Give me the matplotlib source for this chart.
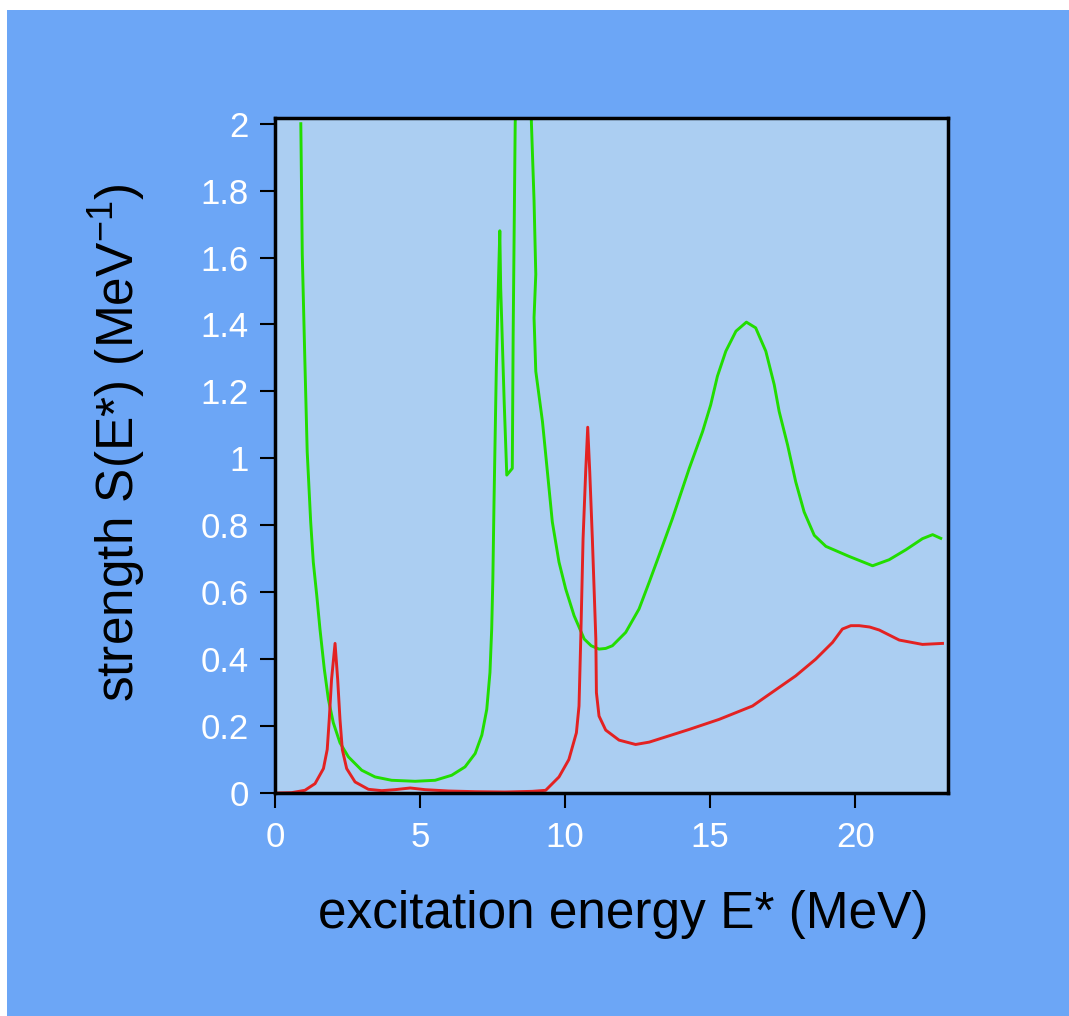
import matplotlib
matplotlib.use("Agg")
import matplotlib.pyplot as plt
from matplotlib.patches import Rectangle

plt.rcParams["font.family"] = ["Liberation Sans", "DejaVu Sans"]
plt.rcParams["mathtext.fontset"] = "custom"
plt.rcParams["mathtext.rm"] = "Liberation Sans"
plt.rcParams["mathtext.it"] = "Liberation Sans:italic"
plt.rcParams["mathtext.bf"] = "Liberation Sans:bold"

OUTER_BLUE = "#6ca6f6"
INNER_BLUE = "#abcef2"
GREEN = "#22dd00"
RED = "#e32222"

# green curve (peak near 8.5 MeV runs off the top)
green_e = [0.89, 0.94, 1.03, 1.11, 1.23, 1.32, 1.44, 1.55, 1.70, 1.84, 2.01, 2.24,
           2.53, 2.99, 3.45, 4.02, 4.83, 5.52, 6.09, 6.55, 6.90, 7.13, 7.30, 7.41,
           7.47, 7.51, 7.55, 7.63, 7.70, 7.75, 7.78, 7.90, 7.99, 8.18, 8.21, 8.28,
           8.55, 8.84, 8.93, 8.99, 8.93, 8.99, 9.22, 9.39, 9.56, 9.79, 10.02, 10.31,
           10.66, 10.9, 11.17, 11.40, 11.63, 12.09, 12.55, 12.9, 13.24, 13.70, 14.28,
           14.74, 15.02, 15.25, 15.54, 15.89, 16.25, 16.57, 16.92, 17.21, 17.38, 17.67,
           17.95, 18.24, 18.59, 18.99, 19.79, 20.6, 21.17, 21.75, 22.32, 22.67, 22.95]
green_s = [2.0, 1.61, 1.29, 1.02, 0.81, 0.69, 0.59, 0.49, 0.37, 0.28, 0.21, 0.15,
           0.108, 0.068, 0.048, 0.038, 0.035, 0.038, 0.053, 0.078, 0.118, 0.173, 0.25, 0.36,
           0.49, 0.64, 0.87, 1.27, 1.52, 1.68, 1.51, 1.17, 0.95, 0.97, 1.37, 2.0,
           3.0, 2.0, 1.77, 1.55, 1.42, 1.26, 1.11, 0.96, 0.81, 0.69, 0.61, 0.53,
           0.46, 0.44, 0.43, 0.432, 0.44, 0.48, 0.55, 0.63, 0.71, 0.82, 0.97,
           1.08, 1.16, 1.245, 1.32, 1.38, 1.407, 1.39, 1.32, 1.22, 1.14, 1.04,
           0.93, 0.84, 0.77, 0.737, 0.707, 0.679, 0.697, 0.727, 0.76, 0.772, 0.761]

# red curve
red_e = [0.0, 0.57, 1.03, 1.38, 1.67, 1.80, 1.87, 1.95, 2.07, 2.16, 2.24, 2.32,
         2.47, 2.76, 3.22, 3.68, 4.14, 4.66, 5.17, 5.98, 6.90, 7.93, 8.87, 9.33,
         9.79, 10.13, 10.39, 10.48, 10.54, 10.62, 10.71, 10.78, 10.85, 10.94, 11.06, 11.08,
         11.17, 11.40, 11.86, 12.43, 12.9, 14.28, 15.31, 16.46, 17.95, 18.64, 19.22,
         19.56, 19.85, 20.14, 20.5, 20.83, 21.52, 22.32, 23.01]
red_s = [0.0, 0.001, 0.008, 0.028, 0.073, 0.13, 0.22, 0.34, 0.447, 0.34, 0.22, 0.13,
         0.073, 0.033, 0.011, 0.007, 0.010, 0.015, 0.010, 0.006, 0.004, 0.003, 0.005, 0.008,
         0.048, 0.10, 0.18, 0.26, 0.46, 0.76, 0.96, 1.093, 0.96, 0.76, 0.46, 0.30,
         0.23, 0.188, 0.158, 0.145, 0.152, 0.19, 0.22, 0.26, 0.35, 0.40, 0.45,
         0.49, 0.50, 0.50, 0.496, 0.487, 0.457, 0.444, 0.447]

x_ticks = [0, 5, 10, 15, 20]
y_ticks = [0, 0.2, 0.4, 0.6, 0.8, 1.0, 1.2, 1.4, 1.6, 1.8, 2.0]
y_tick_labels = ["0", "0.2", "0.4", "0.6", "0.8", "1", "1.2", "1.4", "1.6", "1.8", "2"]

W, H = 1069, 1016
fig = plt.figure(figsize=(W / 100, H / 100), dpi=100)
fig.patch.set_facecolor("white")
fig.patches.append(Rectangle((7 / W, 0), 1, (H - 10) / H, transform=fig.transFigure,
                             facecolor=OUTER_BLUE, edgecolor="none", zorder=-10))

left, right, top, bottom = 275, 948, 118, 793
ax = fig.add_axes([left / W, 1 - bottom / H, (right - left) / W, (bottom - top) / H])
ax.set_facecolor(INNER_BLUE)

ax.plot(green_e, green_s, color=GREEN, linewidth=2.1, solid_joinstyle="round")
ax.plot(red_e, red_s, color=RED, linewidth=2.1, solid_joinstyle="round")

ax.set_xlim(0, 23.2)
ax.set_ylim(0, 2.017)

ax.set_xticks(x_ticks)
ax.set_yticks(y_ticks)
ax.set_yticklabels(y_tick_labels)
ax.tick_params(axis="both", direction="out", length=11, width=1.5, color="black",
               labelcolor="white", labelsize=25)
ax.tick_params(axis="y", pad=8)
ax.tick_params(axis="x", pad=9)
for sp in ax.spines.values():
    sp.set_linewidth(2.5)
    sp.set_color("black")

ax.set_xlabel("excitation energy E* (MeV)", fontsize=37, color="black")
ax.set_ylabel("strength S(E*) (MeV$^{\\mathrm{-1}}$)", fontsize=37, color="black")
ax.xaxis.set_label_coords(0.517, -0.144)
ax.yaxis.set_label_coords(-0.189, 0.519)

fig.savefig("out.png", dpi=100, facecolor=fig.get_facecolor())
